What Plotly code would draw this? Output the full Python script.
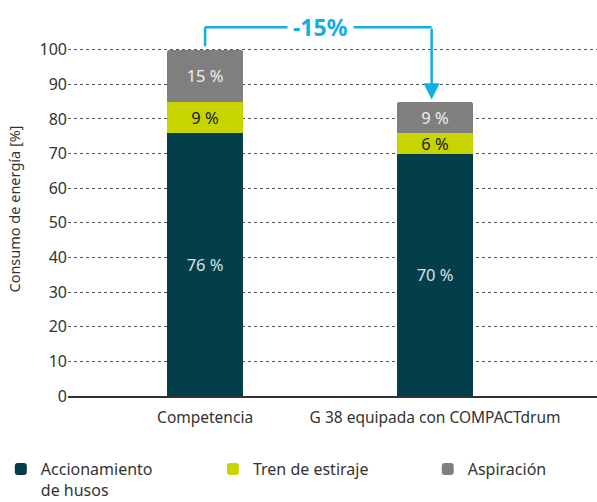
import plotly.graph_objects as go

categories = ["Competencia", "G 38 equipada con COMPACTdrum"]
husos = [76, 70]
estiraje = [9, 6]
aspiracion = [15, 9]

series = [
    ("Accionamiento<br>de husos", husos, "#033f4b", "#d5e3e6", "legend"),
    ("Tren de estiraje", estiraje, "#c8d400", "#1a1a1a", "legend2"),
    ("Aspiración", aspiracion, "#7f7f7f", "#f0f0f0", "legend3"),
]

totals = [a + b + c for a, b, c in zip(husos, estiraje, aspiracion)]
change = round((totals[1] - totals[0]) / totals[0] * 100)

blue = "#12aee6"
font = "Noto Sans"

fig = go.Figure()
for name, vals, color, txtcolor, leg in series:
    fig.add_trace(go.Bar(
        x=categories, y=vals, name=name, legend=leg,
        marker=dict(color=color, line=dict(width=0)),
        text=[f"{v} %" for v in vals],
        textposition="inside", insidetextanchor="middle", constraintext="none",
        textfont=dict(color=txtcolor, size=16.5, family=font),
        width=0.33,
    ))

top_y = 106.5
# connector from first bar up, across, and down to the second bar
fig.add_shape(type="line", xref="x", yref="y", x0=0, x1=0, y0=totals[0] + 1, y1=top_y,
              line=dict(color=blue, width=2.5))
fig.add_shape(type="line", xref="x", yref="y", x0=0, x1=0.985, y0=top_y, y1=top_y,
              line=dict(color=blue, width=2.5))
fig.add_annotation(x=0.985, y=totals[1] + 0.6, ax=0.985, ay=top_y, xref="x", yref="y",
                   axref="x", ayref="y", showarrow=True, arrowhead=2, arrowsize=1.3,
                   arrowwidth=2.5, arrowcolor=blue, text="")
fig.add_annotation(x=0.5, y=top_y, xref="x", yref="y", showarrow=False,
                   text=f"<b>{change}%</b>", font=dict(color=blue, size=23, family=font),
                   bgcolor="white", borderpad=5)

legend_style = dict(orientation="h", xanchor="left", y=-0.15, yanchor="top", valign="top",
                    font=dict(size=16, color="#333333"), bgcolor="rgba(0,0,0,0)")

fig.update_layout(
    barmode="stack",
    barcornerradius=3,
    width=597, height=502,
    margin=dict(l=68, r=0, t=22, b=106, autoexpand=False),
    plot_bgcolor="white", paper_bgcolor="white",
    font=dict(family=font, color="#333333", size=14),
    showlegend=True,
    legend=dict(x=-0.127, **legend_style),
    legend2=dict(x=0.274, **legend_style),
    legend3=dict(x=0.68, **legend_style),
    xaxis=dict(range=[-0.596, 1.704], showline=True, linecolor="#333333", linewidth=1.5,
               ticks="outside", ticklen=7, tickcolor="rgba(0,0,0,0)",
               tickfont=dict(size=15.5, color="#333333"), showgrid=False, automargin=False),
    yaxis=dict(range=[0, 108], tickvals=list(range(0, 101, 10)), showgrid=True,
               gridcolor="#555555", griddash="dot", gridwidth=1, zeroline=False,
               tickfont=dict(size=16, color="#333333"), automargin=False,
               title=dict(text="Consumo de energía [%]", font=dict(size=14.5, color="#333333"))),
)

fig.write_html("out.html", config={"displayModeBar": False},
               post_script="document.body.style.margin='0';")
